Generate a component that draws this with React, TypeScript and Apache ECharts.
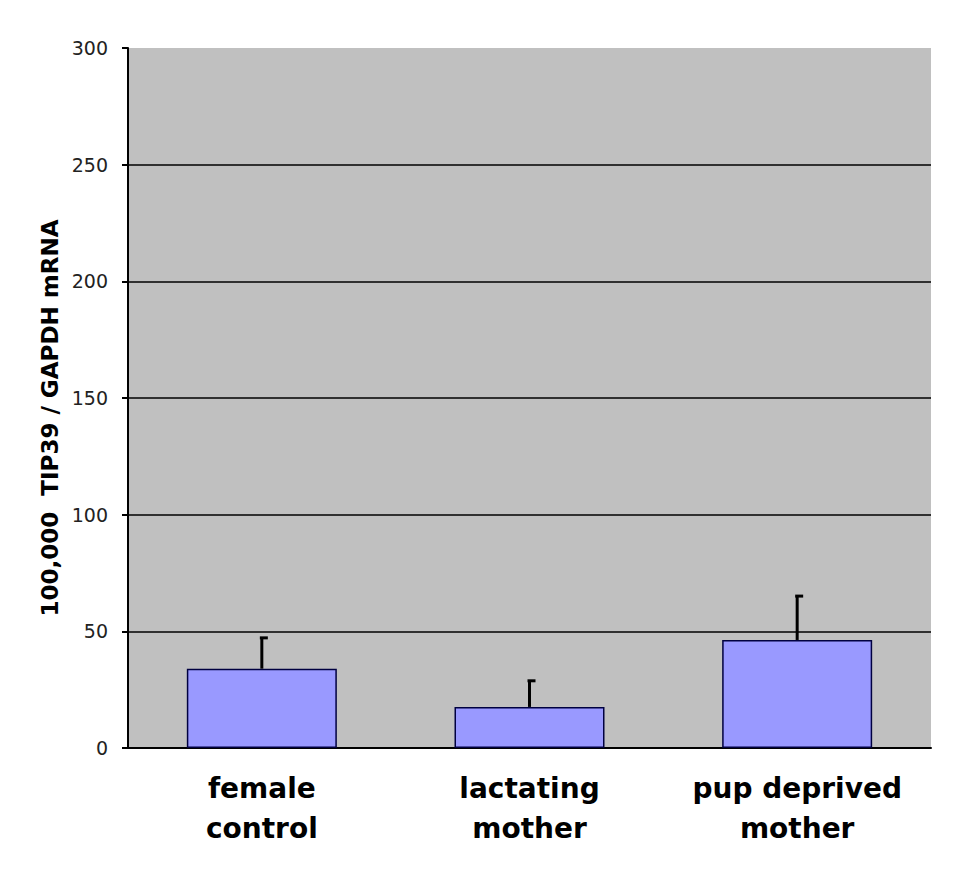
import React, { useEffect, useRef } from "react";
import * as echarts from "echarts";

const categories = ["female\ncontrol", "lactating\nmother", "pup deprived\nmother"];
const values = [34, 17.6, 46.3];
const errors = [13.2, 11.2, 18.8];
const yTicks = [0, 50, 100, 150, 200, 250, 300];
const yTitle = "100,000  TIP39 / GAPDH mRNA";

export default function App() {
  const ref = useRef<HTMLDivElement>(null);
  useEffect(() => {
    document.body.style.margin = "0";
    const chart = echarts.init(ref.current!, undefined, { renderer: "svg" });
    const font = "DejaVu Sans, Liberation Sans, Arial, sans-serif";
    chart.setOption({
      animation: false,
      backgroundColor: "#ffffff",
      grid: {
        left: 128,
        right: 49,
        top: 48,
        bottom: 127,
        show: true,
        backgroundColor: "#c0c0c0",
        borderWidth: 0,
      },
      xAxis: {
        type: "category",
        data: categories,
        axisLine: { lineStyle: { color: "#000", width: 2 } },
        axisTick: { show: false },
        axisLabel: {
          interval: 0,
          fontFamily: font,
          fontSize: 28,
          fontWeight: "bold",
          color: "#000",
          lineHeight: 40,
          margin: 20,
        },
      },
      yAxis: {
        type: "value",
        min: yTicks[0],
        max: yTicks[yTicks.length - 1],
        interval: 50,
        axisLine: { show: true, lineStyle: { color: "#000", width: 2 } },
        axisTick: { show: true, length: 6, lineStyle: { color: "#000", width: 2 } },
        splitLine: { showMaxLine: false, lineStyle: { color: "#000", width: 1.5 } },
        axisLabel: {
          fontFamily: font,
          fontSize: 19,
          color: "#222",
          margin: 20,
        },
      },
      graphic: [
        {
          type: "text",
          x: 50,
          y: 418,
          rotation: Math.PI / 2,
          style: {
            text: yTitle,
            fontFamily: font,
            fontSize: 23,
            fontWeight: "bold",
            fill: "#000",
            textAlign: "center",
            textVerticalAlign: "middle",
          },
        },
      ],
      series: [
        {
          type: "bar",
          data: values,
          barWidth: 150,
          itemStyle: { color: "#9999ff", borderColor: "#000040", borderWidth: 1.5 },
          z: 2,
        },
        {
          type: "custom",
          z: 3,
          data: values.map((v, i) => [i, v, v + errors[i]]),
          renderItem: (params: any, api: any) => {
            const i = api.value(0);
            const base = api.coord([i, api.value(1)]);
            const top = api.coord([i, api.value(2)]);
            return {
              type: "group",
              children: [
                {
                  type: "line",
                  shape: { x1: base[0], y1: base[1], x2: top[0], y2: top[1] },
                  style: { stroke: "#000", lineWidth: 3 },
                },
                {
                  type: "line",
                  shape: { x1: top[0] - 2, y1: top[1], x2: top[0] + 6, y2: top[1] },
                  style: { stroke: "#000", lineWidth: 3 },
                },
              ],
            };
          },
        },
      ],
    });
    return () => chart.dispose();
  }, []);
  return <div ref={ref} style={{ width: 980, height: 875 }} />;
}
